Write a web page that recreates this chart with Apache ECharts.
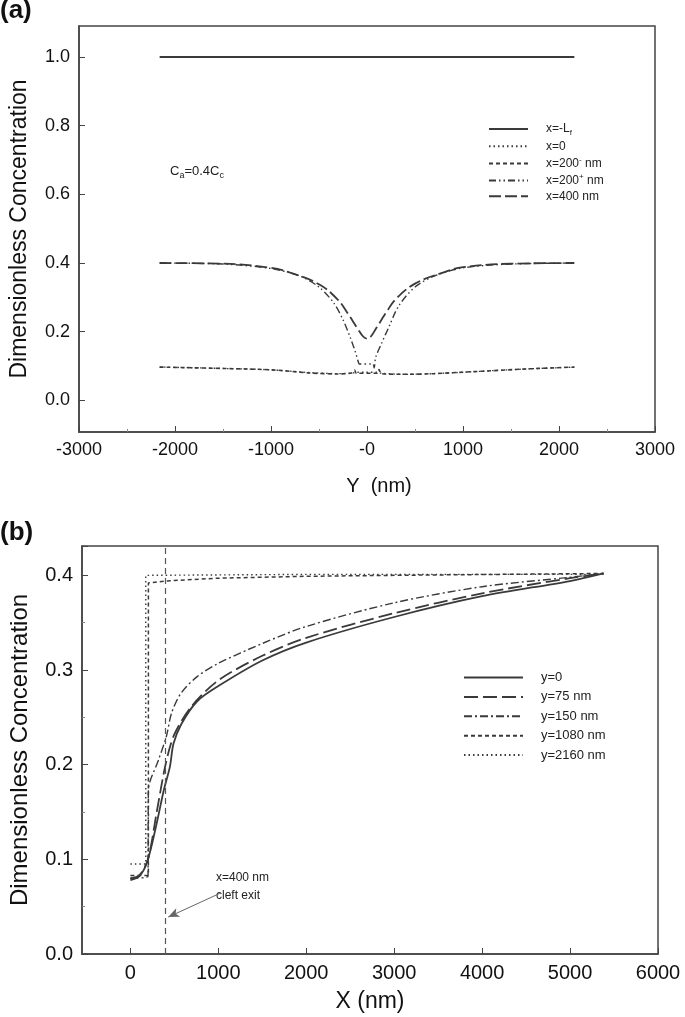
<!DOCTYPE html>
<html>
<head>
<meta charset="utf-8">
<script src="https://cdn.jsdelivr.net/npm/echarts@6/dist/echarts.min.js"></script>
<style>html,body{margin:0;padding:0;background:#fff;}#c{width:685px;height:1017px;}</style>
</head>
<body>
<div id="c"></div>
<script>
// ---------- Panel (a) data: concentration vs Y (nm) ----------
const aXTicks = [-3000, -2000, -1000, 0, 1000, 2000, 3000];
const aNames = ['x=-Lf', 'x=0', 'x=200- nm', 'x=200+ nm', 'x=400 nm'];
const aLf = [[-2160, 1.0], [2160, 1.0]];
const aX0 = [[-2160, 0.097], [-1500, 0.093], [-1000, 0.089], [-600, 0.081], [-300, 0.078], [-150, 0.080], [-100, 0.082], [0, 0.082], [100, 0.082], [150, 0.079], [400, 0.076], [700, 0.078], [1200, 0.085], [1700, 0.092], [2160, 0.097]];
const aX200m = [[-2160, 0.097], [-1500, 0.093], [-1000, 0.089], [-600, 0.080], [-300, 0.077], [-160, 0.080], [-130, 0.088], [-110, 0.079], [110, 0.079], [125, 0.09], [150, 0.078], [400, 0.076], [700, 0.078], [1200, 0.085], [1700, 0.092], [2160, 0.097]];
const aX200p = [[-2160, 0.400], [-1500, 0.397], [-1000, 0.384], [-700, 0.362], [-500, 0.330], [-350, 0.285], [-250, 0.235], [-170, 0.180], [-120, 0.140], [-90, 0.112], [-80, 0.106], [60, 0.106], [75, 0.095], [90, 0.125], [150, 0.165], [230, 0.215], [330, 0.275], [500, 0.330], [700, 0.362], [1000, 0.386], [1500, 0.397], [2160, 0.400]];
const aX400 = [[-2160, 0.400], [-1500, 0.398], [-1000, 0.386], [-800, 0.372], [-500, 0.338], [-300, 0.292], [-200, 0.253], [-100, 0.210], [-40, 0.186], [0, 0.180], [40, 0.186], [100, 0.212], [200, 0.256], [300, 0.295], [500, 0.340], [800, 0.373], [1000, 0.388], [1500, 0.398], [2160, 0.400]];

// ---------- Panel (b) data: concentration vs X (nm) ----------
const bNames = ['y=0', 'y=75 nm', 'y=150 nm', 'y=1080 nm', 'y=2160 nm'];
const bY0 = [[0, 0.078], [100, 0.082], [190, 0.097], [290, 0.134], [380, 0.173], [450, 0.198], [490, 0.222], [580, 0.243], [760, 0.267], [1000, 0.283], [1500, 0.310], [2000, 0.329], [3000, 0.356], [4000, 0.378], [5000, 0.394], [5380, 0.402]];
const bY75 = [[0, 0.080], [100, 0.083], [200, 0.100], [300, 0.150], [400, 0.200], [500, 0.232], [700, 0.262], [1000, 0.289], [1500, 0.315], [2000, 0.334], [3000, 0.360], [4000, 0.381], [5000, 0.397], [5380, 0.402]];
const bY150 = [[0, 0.080], [200, 0.082], [205, 0.173], [320, 0.205], [410, 0.230], [470, 0.255], [580, 0.276], [760, 0.293], [1000, 0.307], [1500, 0.328], [2000, 0.346], [3000, 0.371], [4000, 0.388], [5000, 0.398], [5380, 0.402]];
const bY1080 = [[0, 0.083], [205, 0.083], [205, 0.392], [400, 0.394], [1000, 0.397], [2000, 0.399], [3000, 0.400], [5380, 0.402]];
const bY2160 = [[0, 0.095], [175, 0.095], [175, 0.400], [2000, 0.401], [5380, 0.401]];
const bCleftX = 400;
const bArrow = [[1016, 0.064], [430, 0.039]];

const FONT = "'Liberation Sans', Arial, sans-serif";
const NARROW = "'Liberation Sans Narrow', 'Liberation Sans', Arial, sans-serif";
const LC = '#3a3a3a';
const AX = '#444';

function axisCommon(fs, margin) {
  return {
    axisLine: { show: true, onZero: false, lineStyle: { color: AX, width: 1.5 } },
    axisTick: { show: true, inside: true, length: 6, lineStyle: { color: AX, width: 1 } },
    minorTick: { show: true, splitNumber: 2, length: 3, lineStyle: { color: '#888', width: 1 } },
    splitLine: { show: false },
    axisLabel: { color: '#111', fontSize: fs, fontFamily: FONT, margin: margin }
  };
}

const chart = echarts.init(document.getElementById('c'), null, { renderer: 'canvas' });

const legendRich = {
  s: { fontSize: 8, fontFamily: NARROW, color: '#222', padding: [7, 0, 0, 0] },
  p: { fontSize: 8, fontFamily: NARROW, color: '#222', padding: [0, 0, 7, 0] }
};
const legendLabels = {
  'x=-Lf': 'x=-L{s|f}',
  'x=0': 'x=0',
  'x=200- nm': 'x=200{p|-} nm',
  'x=200+ nm': 'x=200{p|+} nm',
  'x=400 nm': 'x=400 nm'
};

function ls(type, w) { return { color: LC, width: w || 1.5, type: type }; }
const noSym = { color: 'rgba(0,0,0,0)', borderColor: 'rgba(0,0,0,0)', borderWidth: 0, opacity: 0 };

const option = {
  animation: false,
  backgroundColor: '#fff',
  color: [LC],
  grid: [
    { left: 73, right: 30, top: 26, height: 406, show: true, borderColor: AX, borderWidth: 1.5, backgroundColor: 'transparent' },
    { left: 74, right: 27, top: 546, height: 408, show: true, borderColor: AX, borderWidth: 1.5, backgroundColor: 'transparent' }
  ],
  xAxis: [
    Object.assign(axisCommon(18, 9), {
      type: 'value', gridIndex: 0, min: -3000, max: 3000, interval: 1000,
      name: 'Y  (nm)', nameLocation: 'middle', nameGap: 44,
      nameTextStyle: { fontSize: 20, fontFamily: FONT, color: '#111', padding: [0, 0, 0, 24] },
      axisLabel: { color: '#111', fontSize: 18, fontFamily: FONT, margin: 9, formatter: v => (v === 0 ? '-0' : String(v)) }
    }),
    Object.assign(axisCommon(20, 9), {
      type: 'value', gridIndex: 1, min: -550, max: 6000, splitNumber: 6,
      name: 'X (nm)', nameLocation: 'middle', nameGap: 36,
      nameTextStyle: { fontSize: 23, fontFamily: FONT, color: '#111' },
      axisLabel: { color: '#111', fontSize: 20, fontFamily: FONT, margin: 9, showMinLabel: false, formatter: v => String(v) },
      minorTick: { show: false }
    })
  ],
  yAxis: [
    Object.assign(axisCommon(18, 9), {
      type: 'value', gridIndex: 0, min: -0.092, max: 1.09, splitNumber: 6,
      name: 'Dimensionless Concentration', nameLocation: 'middle', nameGap: 48,
      nameTextStyle: { fontSize: 23, fontFamily: FONT, color: '#111' },
      axisLabel: { color: '#111', fontSize: 18, fontFamily: FONT, margin: 9, showMinLabel: false, showMaxLabel: false, formatter: v => v.toFixed(1) },
      minorTick: { show: false }
    }),
    Object.assign(axisCommon(20, 9), {
      type: 'value', gridIndex: 1, min: 0, max: 0.431, interval: 0.1,
      name: 'Dimensionless Concentration', nameLocation: 'middle', nameGap: 50,
      nameTextStyle: { fontSize: 24, fontFamily: FONT, color: '#111' },
      axisLabel: { color: '#111', fontSize: 20, fontFamily: FONT, margin: 9, showMaxLabel: false, formatter: v => v.toFixed(1) }
    })
  ],
  legend: [
    {
      data: aNames, orient: 'vertical', left: 483, top: 118,
      itemWidth: 39, itemHeight: 10, itemGap: 3.7,
      itemStyle: noSym,
      textStyle: { fontSize: 12, fontFamily: NARROW, color: '#222', padding: [0, 0, 0, 13], rich: legendRich },
      formatter: n => legendLabels[n],
      selectedMode: false
    },
    {
      data: bNames, orient: 'vertical', left: 458, top: 666,
      itemWidth: 59, itemHeight: 10, itemGap: 6.4,
      itemStyle: noSym,
      textStyle: { fontSize: 13, fontFamily: NARROW, color: '#222', padding: [0, 0, 0, 13] },
      selectedMode: false
    }
  ],
  series: [
    { name: aNames[0], type: 'line', xAxisIndex: 0, yAxisIndex: 0, data: aLf, showSymbol: false, symbol: 'none', lineStyle: ls('solid', 2) },
    { name: aNames[1], type: 'line', xAxisIndex: 0, yAxisIndex: 0, data: aX0, showSymbol: false, symbol: 'none', smooth: 0.3, lineStyle: ls([1.5, 3], 1.3) },
    { name: aNames[2], type: 'line', xAxisIndex: 0, yAxisIndex: 0, data: aX200m, showSymbol: false, symbol: 'none', smooth: 0.3, lineStyle: ls([4, 3], 1.6) },
    { name: aNames[3], type: 'line', xAxisIndex: 0, yAxisIndex: 0, data: aX200p, showSymbol: false, symbol: 'none', smooth: 0.3, lineStyle: ls([7, 3, 1.5, 3, 1.5, 3], 1.4) },
    { name: aNames[4], type: 'line', xAxisIndex: 0, yAxisIndex: 0, data: aX400, showSymbol: false, symbol: 'none', smooth: 0.4, lineStyle: ls([12, 4], 1.8) },

    { name: bNames[0], type: 'line', xAxisIndex: 1, yAxisIndex: 1, data: bY0, showSymbol: false, symbol: 'none', smooth: 0.3, lineStyle: ls('solid', 1.8),
      markLine: {
        silent: true, symbol: ['none', 'none'], label: { show: false },
        data: [
          { xAxis: bCleftX, lineStyle: { color: '#555', width: 1.2, type: [6, 4] } },
          [ { coord: bArrow[0], symbol: 'none' }, { coord: bArrow[1], symbol: 'arrow', symbolSize: [7, 11], lineStyle: { color: '#666', width: 1, type: 'solid' } } ]
        ]
      }
    },
    { name: bNames[1], type: 'line', xAxisIndex: 1, yAxisIndex: 1, data: bY75, showSymbol: false, symbol: 'none', smooth: 0.3, lineStyle: ls([14, 5], 1.8) },
    { name: bNames[2], type: 'line', xAxisIndex: 1, yAxisIndex: 1, data: bY150, showSymbol: false, symbol: 'none', smooth: 0.3, lineStyle: ls([8, 3, 2, 3], 1.4) },
    { name: bNames[3], type: 'line', xAxisIndex: 1, yAxisIndex: 1, data: bY1080, showSymbol: false, symbol: 'none', lineStyle: ls([4, 3], 1.5) },
    { name: bNames[4], type: 'line', xAxisIndex: 1, yAxisIndex: 1, data: bY2160, showSymbol: false, symbol: 'none', lineStyle: ls([1.5, 3], 1.4) }
  ],
  graphic: [
    { type: 'text', left: 0, top: -2, style: { text: '(a)', font: "bold 26px 'Liberation Sans', Arial, sans-serif", fill: '#111' } },
    { type: 'text', left: 0, top: 520, style: { text: '(b)', font: "bold 26px 'Liberation Sans', Arial, sans-serif", fill: '#111' } },
    { type: 'text', left: 170, top: 165, style: {
        text: 'C{s|a}=0.4C{s|c}', font: "13px 'Liberation Sans Narrow', 'Liberation Sans', Arial", fill: '#222',
        rich: { s: { fontSize: 9, fill: '#222', padding: [8, 0, 0, 0] } } } },
    { type: 'text', left: 216, top: 872, style: { text: 'x=400 nm', font: "12px 'Liberation Sans Narrow', 'Liberation Sans', Arial", fill: '#222' } },
    { type: 'text', left: 216, top: 890, style: { text: 'cleft exit', font: "12px 'Liberation Sans Narrow', 'Liberation Sans', Arial", fill: '#222' } }
  ]
};
chart.setOption(option);
</script>
</body>
</html>
